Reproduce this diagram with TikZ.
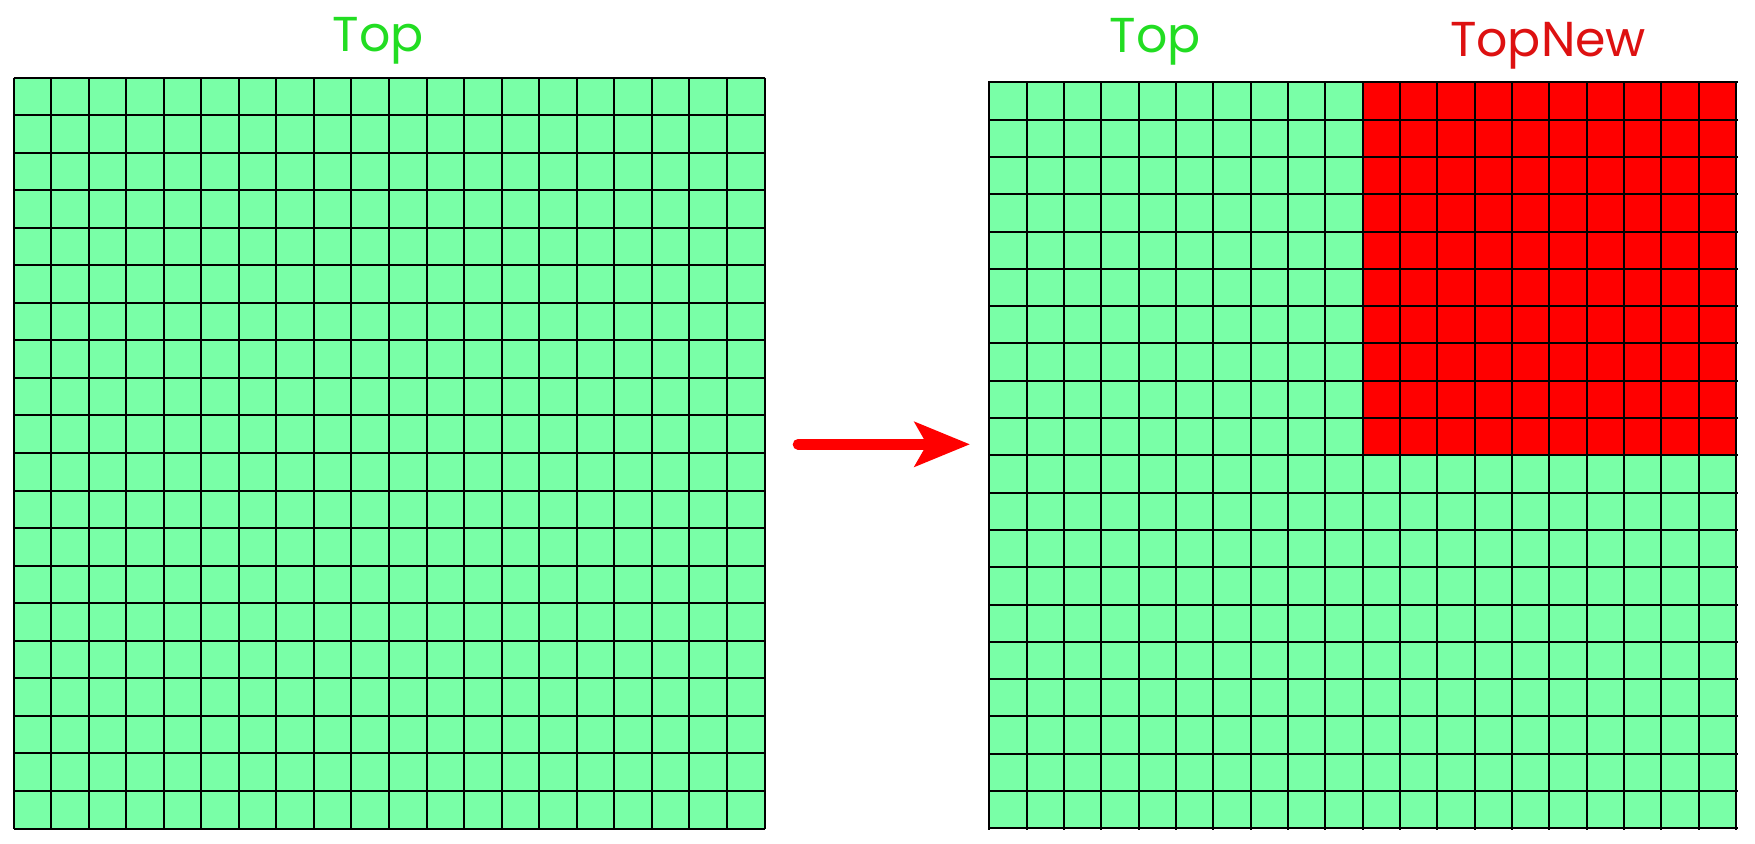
\documentclass[tikz,border=0pt]{standalone}
\usepackage{fontspec}
\setmainfont{Poppins}
\usetikzlibrary{arrows.meta}
\definecolor{cellgreen}{RGB}{121,255,167}
\definecolor{cellred}{RGB}{255,0,0}
\definecolor{labelgreen}{RGB}{34,221,34}
\definecolor{labelred}{RGB}{221,17,17}
\tikzset{
  gridline/.style={black, line width=1pt},
  gridlabel/.style={anchor=base, inner sep=0pt, font=\fontsize{24.5}{30}\selectfont}
}

\begin{document}
\begin{tikzpicture}[x=0.5pt,y=-0.5pt]
		\useasboundingbox (0,0) rectangle (1755,843);
		%%%%% LEFT GRID %%%%%
		\fill[cellgreen] (13.5,77.5) rectangle (764.5,828.5);
		\foreach \i in {0,...,20} {
			\draw[gridline] ({13.5+\i*37.55},77.5) -- ({13.5+\i*37.55},828.5);
			\draw[gridline] (13.5,{77.5+\i*37.55}) -- (764.5,{77.5+\i*37.55});
		}
		\node[gridlabel, text=labelgreen] (topleft) at (378,51.7) {Top};
		
		%%%%% RIGHT GRID %%%%%
		\fill[cellgreen] (989.4,82.3) rectangle (1736,828.3);
		\fill[cellred] (1362.7,82.3) rectangle (1736,455.3);
		\foreach \i in {0,...,20} {
			\draw[gridline] ({989.4+\i*37.33},81) -- ({989.4+\i*37.33},829.8);
			\draw[gridline] (989.4,{82.3+\i*37.3}) -- (1737.5,{82.3+\i*37.3});
		}
		\node[gridlabel, text=labelgreen] (topright) at (1155,52.3) {Top};
		\node[gridlabel, text=labelred] (topnew) at (1548,56.7) {TopNew};
		
		%%%%% ARROW %%%%%
		\coordinate (arrowstart) at (798,444.3);
		\coordinate (arrowend) at (970,444.3);
		\draw[cellred, line width=5.3pt, line cap=round,
			-{Stealth[length=27.5pt, width=22pt, inset=6pt]}] (arrowstart) -- (arrowend);
\end{tikzpicture}
\end{document}
